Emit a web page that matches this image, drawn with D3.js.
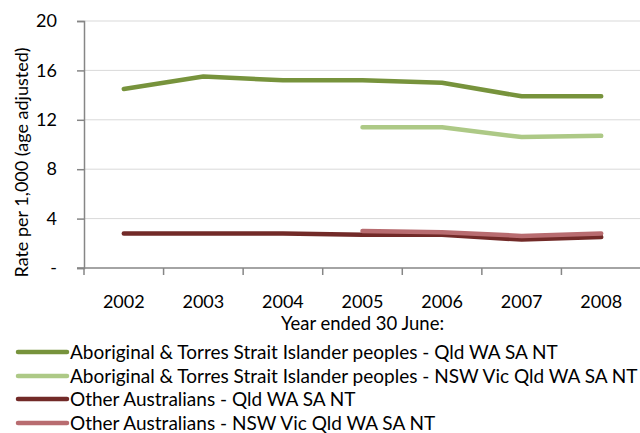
<!DOCTYPE html>
<html>
<head>
<meta charset="utf-8">
<script src="https://cdn.jsdelivr.net/npm/d3@7"></script>
<style>
  body { margin: 0; background: #fff; }
  svg { display: block; font-family: Lato, "Open Sans", sans-serif; }
</style>
</head>
<body>
<div id="chart"></div>
<script>
// Data
const years = ["2002", "2003", "2004", "2005", "2006", "2007", "2008"];
const yTicks = [0, 4, 8, 12, 16, 20];

const indigQld = [14.5, 15.5, 15.2, 15.2, 15.0, 13.9, 13.9];
const indigNsw = [null, null, null, 11.4, 11.4, 10.6, 10.7];
const otherQld = [2.8, 2.8, 2.8, 2.7, 2.7, 2.3, 2.5];
const otherNsw = [null, null, null, 3.0, 2.9, 2.6, 2.8];

const seriesNames = [
  "Aboriginal & Torres Strait Islander peoples - Qld WA SA NT",
  "Aboriginal & Torres Strait Islander peoples - NSW Vic Qld WA SA NT",
  "Other Australians - Qld WA SA NT",
  "Other Australians - NSW Vic Qld WA SA NT"
];
const seriesColors = ["#77933c", "#adc986", "#722a28", "#b86c70"];

const series = [indigQld, indigNsw, otherQld, otherNsw].map((vals, i) => ({
  name: seriesNames[i],
  color: seriesColors[i],
  values: vals.map((v, j) => ({ year: years[j], value: v }))
}));

// Layout
const W = 640, H = 433;
const plot = { left: 84, right: 641, top: 21, bottom: 268 };

const svg = d3.select("#chart").append("svg")
    .attr("width", W)
    .attr("height", H);

const x = d3.scaleBand()
    .domain(years)
    .range([plot.left, plot.right]);

const y = d3.scaleLinear()
    .domain([0, 20])
    .range([plot.bottom, plot.top]);

// Gridlines
svg.append("g")
  .selectAll("line")
  .data(yTicks.filter(d => d > 0))
  .join("line")
    .attr("x1", plot.left)
    .attr("x2", plot.right)
    .attr("y1", d => y(d))
    .attr("y2", d => y(d))
    .attr("stroke", "#d9d9d9")
    .attr("stroke-width", 1);

// Y axis
const yAxis = svg.append("g")
    .attr("transform", `translate(${plot.left},0)`)
    .call(d3.axisLeft(y).tickValues(yTicks).tickSize(7).tickPadding(20)
      .tickFormat(d => d === 0 ? "-" : d));
yAxis.select(".domain").attr("stroke", "#868686").attr("stroke-width", 1.5);
yAxis.selectAll(".tick line").attr("stroke", "#868686").attr("stroke-width", 1.5);
yAxis.selectAll(".tick text")
    .attr("font-size", 18)
    .attr("font-family", "Lato, sans-serif")
    .attr("fill", "#000");

// X axis: ticks at band edges, labels at band centres
const xAxis = svg.append("g")
    .attr("transform", `translate(0,${plot.bottom})`);
xAxis.append("line")
    .attr("x1", plot.left - 7)
    .attr("x2", plot.right)
    .attr("stroke", "#868686")
    .attr("stroke-width", 1.5);
xAxis.selectAll(".xtick")
  .data(years)
  .join("line")
    .attr("class", "xtick")
    .attr("x1", d => x(d))
    .attr("x2", d => x(d))
    .attr("y1", 0)
    .attr("y2", 7)
    .attr("stroke", "#868686")
    .attr("stroke-width", 1.5);
xAxis.selectAll(".xlabel")
  .data(years)
  .join("text")
    .attr("class", "xlabel")
    .attr("x", d => x(d) + x.bandwidth() / 2)
    .attr("y", 40)
    .attr("text-anchor", "middle")
    .attr("font-size", 18)
    .text(d => d);

// Axis titles
svg.append("text")
    .attr("x", x("2005") + x.bandwidth() / 2)
    .attr("y", 330)
    .attr("text-anchor", "middle")
    .attr("font-size", 18.5)
    .text("Year ended 30 June:");

svg.append("text")
    .attr("transform", `translate(28,${(plot.top + plot.bottom) / 2 + 18}) rotate(-90)`)
    .attr("text-anchor", "middle")
    .attr("font-size", 18)
    .text("Rate per 1,000 (age adjusted)");

// Lines
const line = d3.line()
    .defined(d => d.value != null)
    .x(d => x(d.year) + x.bandwidth() / 2)
    .y(d => y(d.value));

svg.append("g")
  .selectAll("path")
  .data(series)
  .join("path")
    .attr("d", d => line(d.values))
    .attr("fill", "none")
    .attr("stroke", d => d.color)
    .attr("stroke-width", 4.5)
    .attr("stroke-linecap", "round")
    .attr("stroke-linejoin", "round");

// Legend
const legendY = [352, 376, 399, 423];
const legend = svg.append("g")
  .selectAll("g")
  .data(series)
  .join("g")
    .attr("transform", (d, i) => `translate(0,${legendY[i]})`);
legend.append("line")
    .attr("x1", 18)
    .attr("x2", 67)
    .attr("stroke", d => d.color)
    .attr("stroke-width", 4.5)
    .attr("stroke-linecap", "round");
legend.append("text")
    .attr("x", 70)
    .attr("y", 7)
    .attr("font-size", 19)
    .text(d => d.name);
</script>
</body>
</html>
